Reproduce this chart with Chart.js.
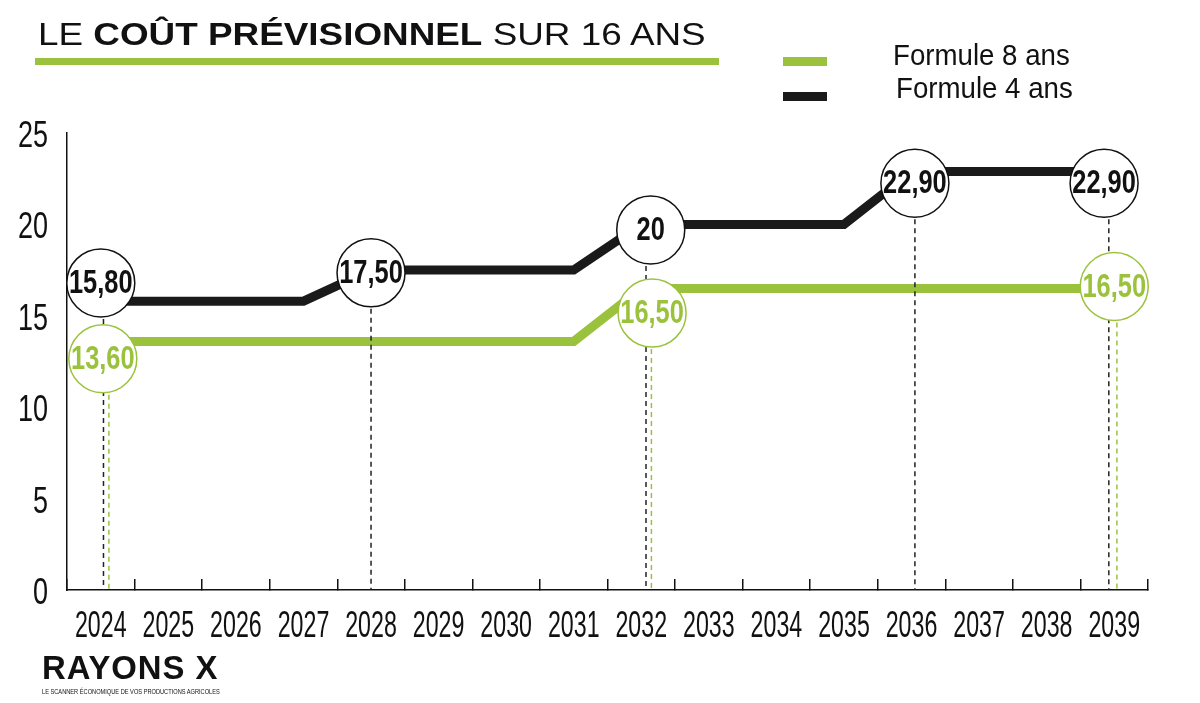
<!DOCTYPE html>
<html>
<head>
<meta charset="utf-8">
<script src="https://cdn.jsdelivr.net/npm/chart.js@4.4.1/dist/chart.umd.min.js"></script>
<style>
html,body{margin:0;padding:0;background:#fff;}
#wrap{position:relative;width:1200px;height:703px;overflow:hidden;}
#chart{position:absolute;left:0;top:0;}
.txt{position:absolute;white-space:nowrap;transform-origin:0 0;color:#111;font-family:'Liberation Sans',Arial,sans-serif;}
.bar{position:absolute;}
</style>
</head>
<body>
<div id="wrap">
  <canvas id="chart" width="1200" height="703"></canvas>
  <div class="txt" id="title" data-w="668" style="left:38px;top:18px;font-size:32px;line-height:32px;">LE <b>COÛT PRÉVISIONNEL</b> SUR 16 ANS</div>
  <div class="bar" style="left:35px;top:58px;width:684px;height:7px;background:#9bc23c;"></div>

  <div class="bar" style="left:783px;top:57px;width:44px;height:9px;background:#9bc23c;"></div>
  <div class="bar" style="left:783px;top:92px;width:44px;height:9px;background:#1a1a1a;"></div>
  <div class="txt" data-w="177" style="left:893px;top:40px;font-size:30px;line-height:30px;">Formule 8 ans</div>
  <div class="txt" data-w="177" style="left:896px;top:73px;font-size:30px;line-height:30px;">Formule 4 ans</div>

  <div class="txt" data-w="176" style="left:42px;top:650px;font-size:34px;line-height:34px;font-weight:bold;letter-spacing:1px;">RAYONS X</div>
  <div class="txt" data-w="178" style="left:42px;top:688px;font-size:7px;line-height:7px;">LE SCANNER ÉCONOMIQUE DE VOS PRODUCTIONS AGRICOLES</div>
</div>
<script>
// axes
const years = [2024,2025,2026,2027,2028,2029,2030,2031,2032,2033,2034,2035,2036,2037,2038,2039];
const yTicks = [0,5,10,15,20,25];

// Formule 4 ans (noir)
const f4Years = [2024,2027,2028,2031,2032,2035,2036,2039];
const f4Values = [15.8,15.8,17.5,17.5,20,20,22.9,22.9];

// Formule 8 ans (vert)
const f8Years = [2024,2031,2032,2039];
const f8Values = [13.6,13.6,16.5,16.5];

// bulles de valeurs
const f4BubbleX = [2024,2028,2032.14,2036.05,2038.85];
const f4BubbleY = [16.8,17.35,19.7,22.25,22.25];
const f4BubbleText = ['15,80','17,50','20','22,90','22,90'];
const f8BubbleX = [2024.03,2032.16,2039];
const f8BubbleY = [12.65,15.15,16.6];
const f8BubbleText = ['13,60','16,50','16,50'];

// pointillés verticaux
const f4DropX = [2024.04,2028,2032.07,2036.05,2038.92];
const f8DropX = [2024.12,2032.15,2039.04];

const GREEN = '#9bc23c';
const BLACK = '#1a1a1a';

document.querySelectorAll('[data-w]').forEach(el=>{
  el.style.transform = 'scaleX(' + (parseFloat(el.dataset.w)/el.offsetWidth) + ')';
});

function pts(xs, ys){ return xs.map((x,i)=>({x:x, y:ys[i]})); }

function dropSets(xs, tops, color){
  return xs.map((x,i)=>({
    data:[{x:x,y:tops[i]},{x:x,y:0}],
    borderColor:color, borderWidth:1.5, borderDash:[5,4],
    pointRadius:0, order:2, clip:false
  }));
}

function bubbleSet(xs, ys, texts, color){
  return {
    data: pts(xs, ys), showLine:false, bubbleText:texts, textColor:color,
    pointRadius:34, pointBackgroundColor:'#fff', pointBorderColor:color,
    pointBorderWidth:1.5, order:1, clip:false
  };
}

function drawText(ctx, txt, x, y, sx, align){
  ctx.save();
  ctx.translate(x, y);
  ctx.scale(sx, 1);
  ctx.textAlign = align;
  ctx.textBaseline = 'middle';
  ctx.fillText(txt, 0, 0);
  ctx.restore();
}

const labelPlugin = {
  id:'labels',
  afterDatasetsDraw(chart){
    const ctx = chart.ctx;
    chart.data.datasets.forEach((ds, i)=>{
      if(!ds.bubbleText) return;
      const meta = chart.getDatasetMeta(i);
      ctx.font = 'bold 33px "Liberation Sans", Arial, sans-serif';
      ctx.fillStyle = ds.textColor;
      meta.data.forEach((p, j)=>{
        drawText(ctx, ds.bubbleText[j], p.x, p.y + 1, 0.77, 'center');
      });
    });
  },
  afterDraw(chart){
    const ctx = chart.ctx;
    const sx = chart.scales.x, sy = chart.scales.y;
    ctx.fillStyle = '#111';
    ctx.font = '36px "Liberation Sans", Arial, sans-serif';
    sx.ticks.forEach(t=>{
      drawText(ctx, String(t.value), sx.getPixelForValue(t.value), 627, 0.645, 'center');
    });
    sy.ticks.forEach(t=>{
      drawText(ctx, String(t.value), 48, sy.getPixelForValue(t.value) + 4, 0.75, 'right');
    });
  }
};

new Chart(document.getElementById('chart'), {
  type:'line',
  data:{
    datasets:[
      { label:'Formule 4 ans', data:pts(f4Years, f4Values), borderColor:BLACK, borderWidth:9,
        borderJoinStyle:'miter', pointRadius:0, tension:0, order:3, clip:false },
      { label:'Formule 8 ans', data:pts(f8Years, f8Values), borderColor:GREEN, borderWidth:9,
        borderJoinStyle:'miter', pointRadius:0, tension:0, order:3, clip:false },
      ...dropSets(f4DropX, f4BubbleY, '#222'),
      ...dropSets(f8DropX, f8BubbleY, GREEN),
      bubbleSet(f4BubbleX, f4BubbleY, f4BubbleText, '#111'),
      bubbleSet(f8BubbleX, f8BubbleY, f8BubbleText, GREEN)
    ]
  },
  options:{
    responsive:false,
    animation:false,
    events:[],
    layout:{padding:{left:0, top:133, right:52, bottom:0}},
    plugins:{legend:{display:false}, tooltip:{enabled:false}},
    scales:{
      x:{
        type:'linear', min:2023.5, max:2039.5,
        afterBuildTicks:s=>{ s.ticks = years.map(v=>({value:v})); },
        afterFit:s=>{ s.height = 113; },
        grid:{offset:true, drawOnChartArea:false, drawTicks:true, tickLength:-11,
              color:'#111', tickColor:'#111', lineWidth:1.5, tickWidth:1.5},
        border:{color:'#111', width:1.5},
        ticks:{display:false}
      },
      y:{
        min:0, max:25,
        afterBuildTicks:s=>{ s.ticks = yTicks.map(v=>({value:v})); },
        afterFit:s=>{ s.width = 67; },
        grid:{display:false},
        border:{display:true, color:'#111', width:1.5},
        ticks:{display:false}
      }
    }
  },
  plugins:[labelPlugin]
});
</script>
</body>
</html>
